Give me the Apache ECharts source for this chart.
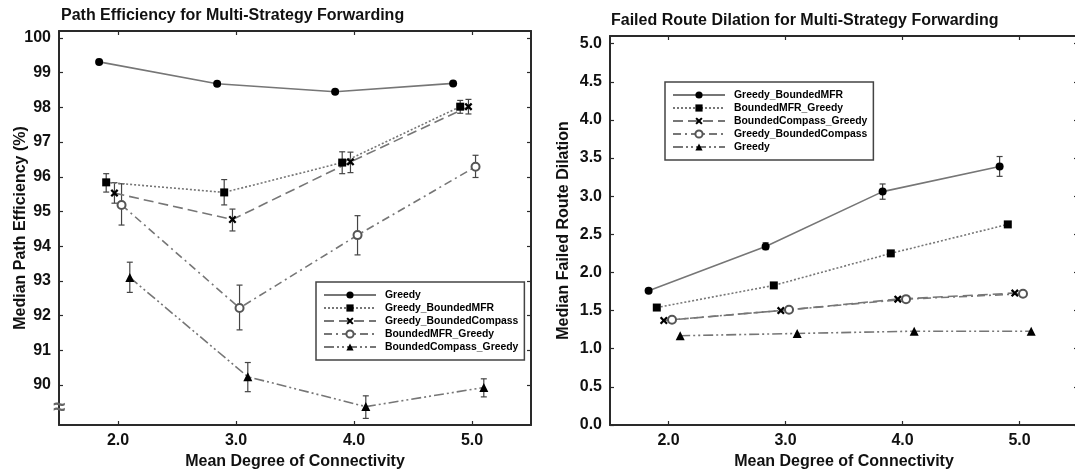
<!DOCTYPE html>
<html>
<head>
<meta charset="utf-8">
<script src="https://cdn.jsdelivr.net/npm/echarts@6/dist/echarts.min.js"></script>
<style>
html,body{margin:0;padding:0;background:#fff;overflow:hidden;}
#wrap{position:relative;width:1075px;height:470px;overflow:hidden;}
#c1{position:absolute;left:0;top:0;width:537px;height:470px;}
#c2{position:absolute;left:537px;top:0;width:541px;height:470px;}
</style>
</head>
<body>
<div id="wrap"><div id="c1"></div><div id="c2"></div></div>
<script>
// ---------- tick labels ----------
const xTicks = [2, 3, 4, 5];
const peYTicks = [90, 91, 92, 93, 94, 95, 96, 97, 98, 99, 100];
const fdYTicks = [0, 0.5, 1, 1.5, 2, 2.5, 3, 3.5, 4, 4.5, 5];

// ---------- left chart: Path Efficiency ----------
const peNames = ['Greedy', 'Greedy_BoundedMFR', 'Greedy_BoundedCompass', 'BoundedMFR_Greedy', 'BoundedCompass_Greedy'];

const peGreedyX  = [1.84, 2.84, 3.84, 4.84];
const peGreedyY  = [99.31, 98.68, 98.45, 98.69];
const peGreedyLo = [99.24, 98.62, 98.40, 98.66];
const peGreedyHi = [99.38, 98.74, 98.50, 98.72];

const peGbMfrX  = [1.90, 2.90, 3.90, 4.90];
const peGbMfrY  = [95.84, 95.55, 96.41, 98.02];
const peGbMfrLo = [95.56, 95.19, 96.09, 97.83];
const peGbMfrHi = [96.09, 95.92, 96.72, 98.20];

const peGbCompX  = [1.97, 2.97, 3.97, 4.97];
const peGbCompY  = [95.53, 94.77, 96.43, 98.02];
const peGbCompLo = [95.24, 94.44, 96.12, 97.81];
const peGbCompHi = [95.83, 95.07, 96.71, 98.23];

const peBMfrGX  = [2.03, 3.03, 4.03, 5.03];
const peBMfrGY  = [95.19, 92.22, 94.32, 96.29];
const peBMfrGLo = [94.61, 91.59, 93.75, 95.98];
const peBMfrGHi = [95.80, 92.88, 94.88, 96.62];

const peBCompGX  = [2.10, 3.10, 4.10, 5.10];
const peBCompGY  = [93.10, 90.24, 89.38, 89.93];
const peBCompGLo = [92.67, 89.81, 89.04, 89.66];
const peBCompGHi = [93.54, 90.65, 89.69, 90.18];

// ---------- right chart: Failed Route Dilation ----------
const fdNames = ['Greedy_BoundedMFR', 'BoundedMFR_Greedy', 'BoundedCompass_Greedy', 'Greedy_BoundedCompass', 'Greedy'];

const fdGbMfrX  = [1.83, 2.83, 3.83, 4.83];
const fdGbMfrY  = [1.76, 2.34, 3.06, 3.39];
const fdGbMfrLo = [1.74, 2.30, 2.96, 3.26];
const fdGbMfrHi = [1.78, 2.39, 3.16, 3.52];

const fdBMfrGX  = [1.90, 2.90, 3.90, 4.90];
const fdBMfrGY  = [1.54, 1.83, 2.25, 2.63];

const fdBCompGX = [1.96, 2.96, 3.96, 4.96];
const fdBCompGY = [1.37, 1.50, 1.65, 1.73];

const fdGbCompX = [2.03, 3.03, 4.03, 5.03];
const fdGbCompY = [1.38, 1.51, 1.65, 1.72];

const fdGreedyX = [2.10, 3.10, 4.10, 5.10];
const fdGreedyY = [1.17, 1.20, 1.23, 1.23];

// ---------- styling ----------
const FONT = "'Liberation Sans', Arial, Helvetica, sans-serif";
const TXT = '#111';
const AXC = '#2a2a2a';
const LINEC = '#767676';
const CROSS = 'path://M0,2 L2,0 L5,3 L8,0 L10,2 L7,5 L10,8 L8,10 L5,7 L2,10 L0,8 L3,5 Z';

const DASH = {
  solid: 'solid',
  dotted: [2, 2],
  dash: [10, 5],
  dashDot: [8, 4, 2, 4],
  dashDotDot: [10, 3, 2, 3, 2, 3]
};
const MARK = {
  circle:   { symbol: 'circle', symbolSize: 8, itemStyle: { color: '#000' } },
  square:   { symbol: 'rect', symbolSize: 8, itemStyle: { color: '#000' } },
  cross:    { symbol: CROSS, symbolSize: 8, itemStyle: { color: '#000' } },
  open:     { symbol: 'emptyCircle', symbolSize: 8, itemStyle: { color: '#555', borderWidth: 1.2 } },
  triangle: { symbol: 'triangle', symbolSize: 9, itemStyle: { color: '#000' } }
};

function zip(xs, ys) { return xs.map((x, i) => [x, ys[i]]); }
function zip3(xs, lo, hi) { return xs.map((x, i) => [x, lo[i], hi[i]]); }

function lineSeries(name, xs, ys, dash, mark) {
  return Object.assign({
    type: 'line', name: name, data: zip(xs, ys), z: 3,
    lineStyle: { color: LINEC, width: 1.6, type: dash },
    showAllSymbol: true, animation: false, silent: true
  }, JSON.parse(JSON.stringify(mark)));
}

function errRender(params, api) {
  const x = api.value(0);
  const p1 = api.coord([x, api.value(1)]);
  const p2 = api.coord([x, api.value(2)]);
  const w = 3;
  const st = { stroke: '#444', lineWidth: 1.2 };
  return {
    type: 'group', children: [
      { type: 'line', shape: { x1: p1[0], y1: p1[1], x2: p2[0], y2: p2[1] }, style: st },
      { type: 'line', shape: { x1: p1[0] - w, y1: p1[1], x2: p1[0] + w, y2: p1[1] }, style: st },
      { type: 'line', shape: { x1: p2[0] - w, y1: p2[1], x2: p2[0] + w, y2: p2[1] }, style: st }
    ]
  };
}
function errSeries(xs, lo, hi) {
  return { type: 'custom', renderItem: errRender, data: zip3(xs, lo, hi), encode: { x: 0, y: [1, 2] }, z: 2, animation: false, silent: true };
}

function axesFor(yMin, yMax, yTicks, xName, yName, yNameGap) {
  const lineStyle = { color: AXC, width: 2 };
  const tick = { show: true, inside: true, length: 4, lineStyle: { color: AXC, width: 1.2 } };
  const lbl = { show: true, color: TXT, fontFamily: FONT, fontWeight: 'bold', fontSize: 16, margin: 8 };
  const nameStyle = { color: TXT, fontFamily: FONT, fontWeight: 'bold', fontSize: 16 };
  return {
    xAxis: [
      { type: 'value', min: 1.5, max: 5.5, position: 'bottom',
        axisLine: { show: true, onZero: false, lineStyle },
        axisTick: Object.assign({ customValues: xTicks }, tick),
        axisLabel: Object.assign({ customValues: xTicks, formatter: v => v.toFixed(1) }, lbl),
        splitLine: { show: false },
        name: xName, nameLocation: 'middle', nameGap: 27, nameTextStyle: nameStyle },
      { type: 'value', min: 1.5, max: 5.5, position: 'top',
        axisLine: { show: true, onZero: false, lineStyle },
        axisTick: Object.assign({ customValues: xTicks }, tick),
        axisLabel: { show: false }, splitLine: { show: false } }
    ],
    yAxis: [
      { type: 'value', min: yMin, max: yMax, position: 'left',
        axisLine: { show: true, onZero: false, lineStyle },
        axisTick: Object.assign({ customValues: yTicks }, tick),
        axisLabel: Object.assign({ customValues: yTicks, formatter: v => (yTicks[1] - yTicks[0] < 1 ? v.toFixed(1) : String(v)) }, lbl),
        splitLine: { show: false },
        name: yName, nameLocation: 'middle', nameGap: yNameGap, nameRotate: 90, nameMoveOverlap: false, nameTextStyle: nameStyle },
      { type: 'value', min: yMin, max: yMax, position: 'right',
        axisLine: { show: true, onZero: false, lineStyle },
        axisTick: Object.assign({ customValues: yTicks }, tick),
        axisLabel: { show: false }, splitLine: { show: false } }
    ]
  };
}

function legendFor(names, left, top) {
  return {
    data: names, orient: 'vertical', left: left, top: top,
    padding: [8, 6, 8, 7], itemWidth: 52, itemHeight: 9, itemGap: 3,
    backgroundColor: '#fff', borderColor: '#444', borderWidth: 1.5, borderRadius: 0,
    selectedMode: false,
    textStyle: { fontFamily: FONT, fontWeight: 'bold', fontSize: 10.4, color: '#000', padding: [0, 0, 0, 4] }
  };
}

function titleFor(text, left, top) {
  return { text: text, left: left, top: top, padding: 0,
    textStyle: { fontFamily: FONT, fontWeight: 'bold', fontSize: 16, color: TXT } };
}

// ---------- build left chart ----------
const c1 = echarts.init(document.getElementById('c1'), null, { renderer: 'canvas' });
const ax1 = axesFor(88.85, 100.2, peYTicks, 'Mean Degree of Connectivity', 'Median Path Efficiency (%)', 30);
c1.setOption(Object.assign({
  backgroundColor: '#fff',
  animation: false,
  title: titleFor('Path Efficiency for Multi-Strategy Forwarding', 61, 8),
  grid: { left: 59, right: 6, top: 31, bottom: 45, outerBoundsMode: 'none' },
  legend: legendFor(peNames, 316, 282),
  series: [
    errSeries(peGreedyX, peGreedyLo, peGreedyHi),
    errSeries(peGbMfrX, peGbMfrLo, peGbMfrHi),
    errSeries(peGbCompX, peGbCompLo, peGbCompHi),
    errSeries(peBMfrGX, peBMfrGLo, peBMfrGHi),
    errSeries(peBCompGX, peBCompGLo, peBCompGHi),
    lineSeries(peNames[0], peGreedyX, peGreedyY, DASH.solid, MARK.circle),
    lineSeries(peNames[1], peGbMfrX, peGbMfrY, DASH.dotted, MARK.square),
    lineSeries(peNames[2], peGbCompX, peGbCompY, DASH.dash, MARK.cross),
    lineSeries(peNames[3], peBMfrGX, peBMfrGY, DASH.dashDot, MARK.open),
    lineSeries(peNames[4], peBCompGX, peBCompGY, DASH.dashDotDot, MARK.triangle)
  ]
}, ax1));

// axis-break marker on the left y axis, placed through the axis scale
const brk = c1.convertToPixel({ gridIndex: 0 }, [1.5, 89.34]);
c1.setOption({ graphic: [{ type: 'text', x: brk[0], y: brk[1], z: 10,
  style: { text: '\u2248', fill: '#666', font: 'bold 22px ' + FONT, align: 'center', verticalAlign: 'middle' } }] });

// ---------- build right chart ----------
const c2 = echarts.init(document.getElementById('c2'), null, { renderer: 'canvas' });
const ax2 = axesFor(0, 5.1, fdYTicks, 'Mean Degree of Connectivity', 'Median Failed Route Dilation', 38);
c2.setOption(Object.assign({
  backgroundColor: '#fff',
  animation: false,
  title: titleFor('Failed Route Dilation for Multi-Strategy Forwarding', 74, 13),
  grid: { left: 73, right: 0, top: 36, bottom: 45, outerBoundsMode: 'none' },
  legend: legendFor(fdNames, 128, 82),
  series: [
    errSeries(fdGbMfrX, fdGbMfrLo, fdGbMfrHi),
    lineSeries(fdNames[0], fdGbMfrX, fdGbMfrY, DASH.solid, MARK.circle),
    lineSeries(fdNames[1], fdBMfrGX, fdBMfrGY, DASH.dotted, MARK.square),
    lineSeries(fdNames[2], fdBCompGX, fdBCompGY, DASH.dash, MARK.cross),
    lineSeries(fdNames[3], fdGbCompX, fdGbCompY, DASH.dashDot, MARK.open),
    lineSeries(fdNames[4], fdGreedyX, fdGreedyY, DASH.dashDotDot, MARK.triangle)
  ]
}, ax2));
</script>
</body>
</html>
